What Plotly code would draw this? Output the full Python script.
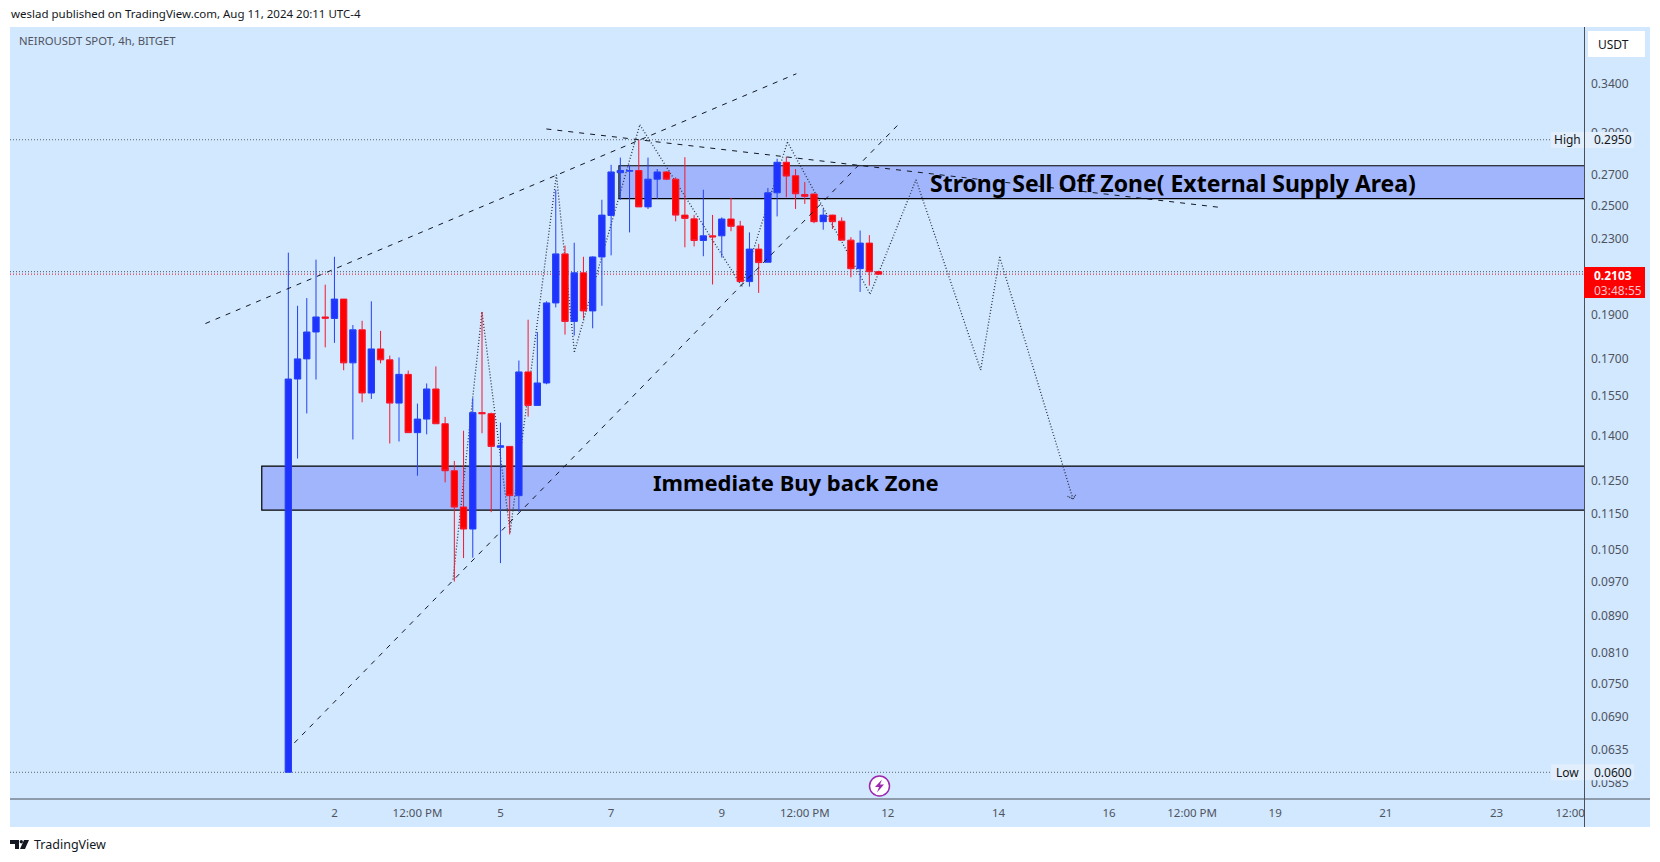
"""
NEIROUSDT 4h chart, TradingView style: candles on a log axis with drawn zones,
trend lines and a dotted projection path.
"""
import math

import plotly.graph_objects as go

opens = [0.0600, 0.1615, 0.1699, 0.1818, 0.1888, 0.1881, 0.1975, 0.1682, 0.1828, 0.1559,
         0.1742, 0.1695, 0.1520, 0.1634, 0.1411, 0.1460, 0.1575, 0.1443, 0.1282, 0.1170,
         0.1107, 0.1484, 0.1480, 0.1360, 0.1363, 0.1204, 0.1644, 0.1511, 0.1599, 0.1956,
         0.2213, 0.1867, 0.2110, 0.1917, 0.2196, 0.2438, 0.2715, 0.2725, 0.2730, 0.2491,
         0.2671, 0.2720, 0.2671, 0.2440, 0.2417, 0.2289, 0.2316, 0.2316, 0.2416, 0.2374,
         0.2064, 0.2240, 0.2167, 0.2581, 0.2787, 0.2694, 0.2570, 0.2573, 0.2400, 0.2440,
         0.2403, 0.2291, 0.2132, 0.2274, 0.2116]
highs = [0.2220, 0.1942, 0.1980, 0.2181, 0.2048, 0.2197, 0.1975, 0.1850, 0.1870, 0.1964,
         0.1823, 0.1713, 0.1705, 0.1650, 0.1518, 0.1597, 0.1667, 0.1468, 0.1314, 0.1418,
         0.1539, 0.1912, 0.1484, 0.1447, 0.1363, 0.1692, 0.1875, 0.1818, 0.1964, 0.2601,
         0.2260, 0.2276, 0.2197, 0.2199, 0.2536, 0.2769, 0.2820, 0.2769, 0.2950, 0.2820,
         0.2740, 0.2725, 0.2683, 0.2823, 0.2440, 0.2601, 0.2441, 0.2426, 0.2548, 0.2405,
         0.2336, 0.2269, 0.2612, 0.2812, 0.2826, 0.2740, 0.2652, 0.2575, 0.2478, 0.2442,
         0.2426, 0.2308, 0.2347, 0.2320, 0.2121]
lows = [0.0600, 0.1322, 0.1481, 0.1613, 0.1749, 0.1769, 0.1651, 0.1387, 0.1523, 0.1536,
        0.1680, 0.1373, 0.1380, 0.1411, 0.1266, 0.1405, 0.1443, 0.1245, 0.0970, 0.1029,
        0.1030, 0.1409, 0.1155, 0.1016, 0.1092, 0.1156, 0.1469, 0.1511, 0.1594, 0.1934,
        0.1806, 0.1802, 0.1880, 0.1835, 0.1942, 0.2205, 0.2536, 0.2336, 0.2491, 0.2478,
        0.2541, 0.2665, 0.2402, 0.2250, 0.2255, 0.2200, 0.2049, 0.2193, 0.2343, 0.2064,
        0.2038, 0.2006, 0.2167, 0.2432, 0.2552, 0.2478, 0.2510, 0.2391, 0.2352, 0.2356,
        0.2291, 0.2086, 0.2011, 0.2043, 0.2100]
closes = [0.1615, 0.1699, 0.1818, 0.1888, 0.1882, 0.1975, 0.1682, 0.1828, 0.1559, 0.1742,
          0.1695, 0.1520, 0.1634, 0.1411, 0.1460, 0.1575, 0.1443, 0.1282, 0.1170, 0.1107,
          0.1484, 0.1480, 0.1363, 0.1365, 0.1204, 0.1644, 0.1511, 0.1599, 0.1956, 0.2213,
          0.1867, 0.2110, 0.1917, 0.2196, 0.2440, 0.2720, 0.2730, 0.2730, 0.2491, 0.2671,
          0.2720, 0.2671, 0.2440, 0.2420, 0.2289, 0.2316, 0.2310, 0.2416, 0.2372, 0.2064,
          0.2240, 0.2165, 0.2581, 0.2787, 0.2692, 0.2575, 0.2558, 0.2400, 0.2440, 0.2400,
          0.2291, 0.2132, 0.2274, 0.2116, 0.2103]

# bar numbers where the time axis has a label
time_ticks = [5, 14, 23, 35, 47, 56, 65, 77, 89, 98, 107, 119, 131, 139]
time_labels = ["2", "12:00 PM", "5", "7", "9", "12:00 PM", "12", "14", "16", "12:00 PM",
               "19", "21", "23", "12:00"]
price_ticks = [0.34, 0.30, 0.27, 0.25, 0.23, 0.19, 0.17, 0.155, 0.14, 0.125, 0.115, 0.105,
               0.097, 0.089, 0.081, 0.075, 0.069, 0.0635, 0.0585]

high_price = 0.2950
low_price = 0.0600
last_price = 0.2103
prev_close = 0.2116

# drawings, as (bar number, price)
channel_up_x = [-8.99, 55.09]
channel_up_y = [0.1857, 0.3483]
slope_down_x = [27.98, 101.0]
slope_down_y = [0.3031, 0.2488]
support_x = [0.65, 66.2]
support_y = [0.0646, 0.3069]
path_x = [17.86, 21.0, 24.05, 29.07, 31.02, 38.11, 49.18, 54.12, 63.09, 68.06, 75.07, 77.13, 85.08]
path_y = [0.0975, 0.1912, 0.1098, 0.2701, 0.1729, 0.3063, 0.2039, 0.2933, 0.2000, 0.2667,
          0.1652, 0.2196, 0.1194]
arrow_x = [84.49, 85.08, 85.43]
arrow_y = [0.1202, 0.1194, 0.1209]

supply_zone = (35.85, 0.2543, 0.2763)
buyback_zone = (-2.88, 0.1161, 0.1297)

BG = "#d1e8ff"
ZONE = "#a0b5fb"
UP_LINE = "#2540f5"
UP_FILL = "#1f33ff"
DOWN_LINE = "#f5182e"
DOWN_FILL = "#ff0000"
FONT = "Noto Sans"

# pane geometry in page pixels
W, H = 1660, 862
LEFT, RIGHT, TOP, BOTTOM = 10, 1585, 27, 799
X_MIN, X_MAX = -30.18, 140.6
Y_MIN, Y_MAX = 0.0561, 0.3918


def px_x(x):
    return (x - LEFT) / (RIGHT - LEFT)


def px_y(y):
    return (BOTTOM - y) / (BOTTOM - TOP)


def page_rect(x0, y0, x1, y1, fill, layer="above"):
    return dict(type="rect", xref="paper", yref="paper", x0=px_x(x0), x1=px_x(x1),
                y0=px_y(y0), y1=px_y(y1), fillcolor=fill, line_width=0, layer=layer)


def page_line(x0, y0, x1, y1, color, width=1):
    return dict(type="line", xref="paper", yref="paper", x0=px_x(x0), x1=px_x(x1),
                y0=px_y(y0), y1=px_y(y1), line=dict(color=color, width=width), layer="above")


def page_path(points, fill):
    d = "M " + " L ".join(f"{px_x(x):.5f},{px_y(y):.5f}" for x, y in points) + " Z"
    return dict(type="path", xref="paper", yref="paper", path=d, fillcolor=fill,
                line_width=0, layer="above")


def page_text(x, y, text, size=12, color="#131722", anchor="left", **kw):
    return dict(xref="paper", yref="paper", x=px_x(x), y=px_y(y), text=text, showarrow=False,
                xanchor=anchor, yanchor="middle", borderpad=0,
                font=dict(family=FONT, size=size, color=color), **kw)


def zone_shape(zone):
    return dict(type="rect", xref="x", yref="y", x0=zone[0], x1=X_MAX, y0=zone[1], y1=zone[2],
                fillcolor=ZONE, line=dict(color="#000000", width=1.2), layer="below")


def price_line(price, color, dash="1px,2px"):
    return dict(type="line", xref="paper", yref="y", x0=0, x1=1, y0=price, y1=price,
                line=dict(color=color, width=1, dash=dash), layer="below")


def polyline(xs, ys, color, dash, layer="below", width=1):
    return [dict(type="line", xref="x", yref="y", x0=xs[i], x1=xs[i + 1], y0=ys[i], y1=ys[i + 1],
                 line=dict(color=color, width=width, dash=dash), layer=layer)
            for i in range(len(xs) - 1)]


def build_shapes():
    shapes = [page_rect(LEFT, TOP, 1650, 827, BG, layer="below")]
    shapes += [zone_shape(supply_zone), zone_shape(buyback_zone)]
    shapes += [price_line(high_price, "#5d6470"), price_line(low_price, "#5d6470"),
               price_line(prev_close, "#4a5060"), price_line(last_price, "#e01020")]
    shapes += polyline(path_x, path_y, "#2b3340", "1px,2px", width=1.3)
    shapes += polyline(arrow_x, arrow_y, "#2b3340", "1px,1px", width=1.3)
    shapes += polyline(channel_up_x, channel_up_y, "#131722", "5px,6px", layer="above")
    shapes += polyline(slope_down_x, slope_down_y, "#131722", "5px,6px", layer="above")
    shapes += polyline(support_x, support_y, "#131722", "5px,6px", layer="above")

    # pane borders
    shapes.append(page_line(LEFT, 799, 1650, 799, "#4a4e59"))
    shapes.append(page_line(1584.5, TOP, 1584.5, 827, "#4a4e59"))

    # currency button and price tags
    shapes.append(page_rect(1588, 31, 1645, 57, "#ffffff"))
    shapes.append(page_rect(1584, 267, 1645, 298, "#ff0000"))
    for y in (140, 772.3):
        shapes.append(page_rect(1551, y - 8, 1584, y + 8, "#e2eefb"))
        shapes.append(page_rect(1585, y - 8, 1634, y + 8, "#e2eefb"))

    # lightning badge on the time axis
    shapes.append(dict(type="circle", xref="paper", yref="paper", x0=px_x(869.5), x1=px_x(889.5),
                       y0=px_y(776), y1=px_y(796), fillcolor="#ffffff",
                       line=dict(color="#9c27b0", width=1.5), layer="above"))
    shapes.append(page_path([(882, 779.5), (875, 787), (879, 787), (877, 792.5), (884, 784.5),
                             (880, 784.5)], "#9c27b0"))

    # TradingView mark, bottom left
    shapes.append(page_path([(10, 840), (19, 840), (19, 849), (15, 849), (15, 844), (10, 844)], "#131722"))
    shapes.append(dict(type="circle", xref="paper", yref="paper", x0=px_x(19.6), x1=px_x(23),
                       y0=px_y(840), y1=px_y(843.4), fillcolor="#131722", line_width=0, layer="above"))
    shapes.append(page_path([(24, 840), (29, 840), (25, 849), (20, 849)], "#131722"))
    return shapes


def build_annotations():
    notes = [
        dict(x=69.4, y=math.log10(0.2647), xref="x", yref="y", showarrow=False, xanchor="left",
             text="<b>Strong Sell Off Zone( External Supply Area)</b>",
             font=dict(family=FONT, size=23, color="#000000")),
        dict(x=39.35, y=math.log10(0.1245), xref="x", yref="y", showarrow=False, xanchor="left",
             text="<b>Immediate Buy back Zone</b>",
             font=dict(family=FONT, size=22, color="#000000")),
        page_text(10, 14, "weslad published on TradingView.com, Aug 11, 2024 20:11 UTC-4", size=11.5),
        page_text(18, 41, "NEIROUSDT SPOT, 4h, BITGET", size=11.3, color="#50535e"),
        page_text(1597, 45, "USDT", size=12),
        page_text(1592.5, 140, "0.2950", size=12),
        page_text(1592.5, 772.3, "0.0600", size=12),
        page_text(1553, 140, "High", size=12),
        page_text(1555, 772.3, "Low", size=12),
        page_text(1592.5, 275.5, "<b>0.2103</b>", size=12, color="#ffffff"),
        page_text(1592.5, 290, "03:48:55", size=12, color="#ffc4cc"),
        page_text(33, 844.5, "TradingView", size=12.5, color="#131722"),
    ]
    return notes


bars = list(range(len(opens)))

fig = go.Figure(go.Candlestick(
    x=bars, open=opens, high=highs, low=lows, close=closes,
    increasing=dict(line=dict(color=UP_LINE, width=1), fillcolor=UP_FILL),
    decreasing=dict(line=dict(color=DOWN_LINE, width=1), fillcolor=DOWN_FILL),
    whiskerwidth=0, showlegend=False,
))

fig.update_layout(
    width=W, height=H, margin=dict(l=LEFT, r=W - RIGHT, t=TOP, b=H - BOTTOM, pad=0),
    paper_bgcolor="#ffffff", plot_bgcolor="rgba(0,0,0,0)", boxgap=0.02,
    font=dict(family=FONT, size=12, color="#50535e"), showlegend=False,
    shapes=build_shapes(), annotations=build_annotations(),
)
fig.update_xaxes(range=[X_MIN, X_MAX], rangeslider_visible=False, showgrid=False, zeroline=False,
                 showline=False, tickmode="array", tickvals=time_ticks, ticktext=time_labels, ticks="",
                 tickfont_size=11.5, ticklabelstandoff=5)
fig.update_yaxes(type="log", range=[math.log10(Y_MIN), math.log10(Y_MAX)], side="right",
                 showgrid=False, zeroline=False, showline=False, tickmode="array",
                 tickvals=price_ticks, ticktext=[f"{p:.4f}" for p in price_ticks], ticks="",
                 ticklabelstandoff=5)

# the page's default body margin would shift everything by 8px
fig.write_html("out.html", post_script="document.body.style.margin = '0';",
               config={"displayModeBar": False})
